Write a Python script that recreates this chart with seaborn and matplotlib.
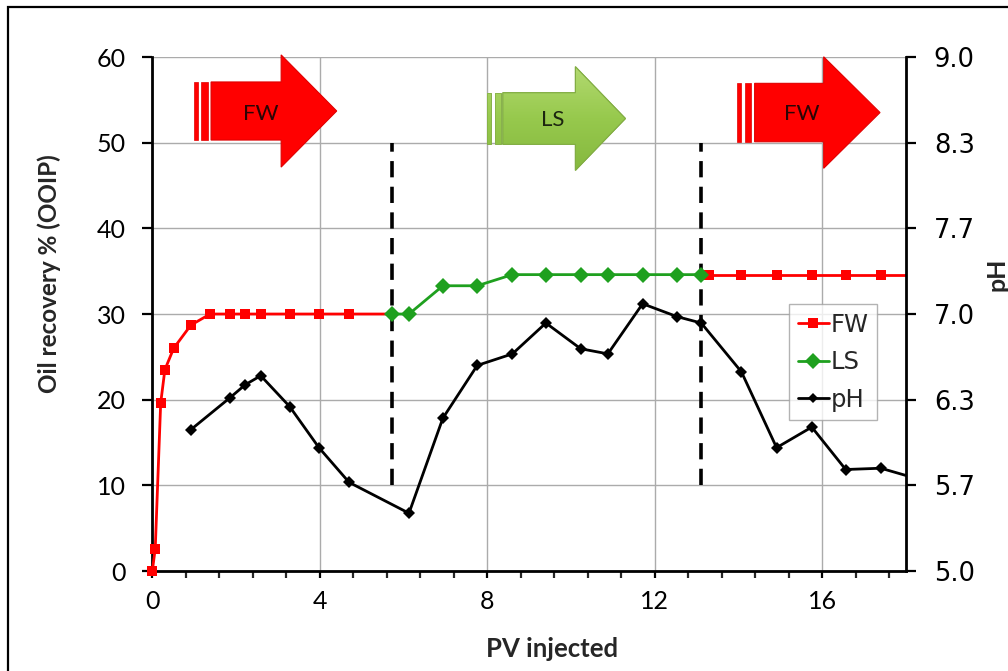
import numpy as np
import matplotlib
matplotlib.use("Agg")
import matplotlib.pyplot as plt
from matplotlib.patches import Polygon, Rectangle
from matplotlib.ticker import MultipleLocator, FormatStrFormatter
from matplotlib.lines import Line2D
import seaborn as sns

# ---- data -------------------------------------------------------------
# first formation-water flood: PV injected vs oil recovery (% OOIP)
fw1_pv = [0.0, 0.07, 0.20, 0.30, 0.51, 0.92, 1.38, 1.86, 2.22, 2.59, 3.28, 3.98, 4.70, 5.72]
fw1_rec = [0.0, 2.6, 19.6, 23.5, 26.0, 28.7, 30.0, 30.0, 30.0, 30.0, 30.0, 30.0, 30.0, 30.0]

# low-salinity flood
ls_pv = [5.72, 6.13, 6.94, 7.76, 8.60, 9.40, 10.23, 10.88, 11.71, 12.53, 13.11]
ls_rec = [30.0, 30.0, 33.3, 33.3, 34.6, 34.6, 34.6, 34.6, 34.6, 34.6, 34.6]

# second formation-water flood
fw2_pv = [13.11, 13.29, 14.07, 14.91, 15.75, 16.56, 17.40, 18.25]
fw2_rec = [34.6, 34.6, 34.6, 34.6, 34.6, 34.6, 34.6, 34.6]

# effluent pH
ph_pv = [0.92, 1.86, 2.22, 2.59, 3.28, 3.98, 4.70, 6.13, 6.94, 7.76, 8.60, 9.40,
         10.23, 10.88, 11.71, 12.53, 13.11, 14.07, 14.91, 15.75, 16.56, 17.40, 18.25]
ph_val = [6.10, 6.35, 6.45, 6.52, 6.28, 5.96, 5.69, 5.45, 6.19, 6.60, 6.69, 6.93,
          6.73, 6.69, 7.08, 6.98, 6.93, 6.55, 5.96, 6.12, 5.79, 5.80, 5.72]

# PV at which the injected brine was switched
switch_pv = [5.72, 13.11]

x_ticks = [0, 4, 8, 12, 16]
y_ticks = [0, 10, 20, 30, 40, 50, 60]
ph_ticks = np.linspace(5.0, 9.0, 7)

# ---- style ------------------------------------------------------------
sns.set_style("white")
plt.rcParams["font.family"] = ["Lato", "DejaVu Sans"]

RED = "#ff0000"
GREEN = "#1fa01f"

fig = plt.figure(figsize=(10.08, 6.71), dpi=100)
ax = fig.add_axes([0.1511, 0.149, 0.7477, 0.766])
ax2 = ax.twinx()

# ---- series -----------------------------------------------------------
sns.lineplot(x=fw1_pv, y=fw1_rec, ax=ax, color=RED, lw=2.0, marker="s", markersize=7.5,
             markeredgewidth=0, markevery=list(range(len(fw1_pv) - 1)), clip_on=False,
             zorder=5, sort=False)
sns.lineplot(x=fw2_pv, y=fw2_rec, ax=ax, color=RED, lw=2.0, marker="s", markersize=7.5,
             markeredgewidth=0, markevery=list(range(1, len(fw2_pv))), zorder=5, sort=False)
sns.lineplot(x=ls_pv, y=ls_rec, ax=ax, color=GREEN, lw=2.0, marker="D", markersize=8,
             markeredgewidth=0, zorder=6, sort=False)
sns.lineplot(x=ph_pv, y=ph_val, ax=ax2, color="black", lw=2.0, marker="D", markersize=6,
             markeredgewidth=0, zorder=5, sort=False)

# brine switch markers
for xs in switch_pv:
    ax.plot([xs, xs], [10, 50], color="black", lw=2.6, ls=(0, (4.5, 2.6)), zorder=4)


# ---- striped arrows marking the injected brine ------------------------
def striped_arrow(x_start, x_body, x_head, x_tip, yc, bh, hh, face, edge,
                  label, label_x, label_y, text_color, gradient=None):
    pieces = [
        [(x_start, yc - bh), (x_start + 0.096, yc - bh), (x_start + 0.096, yc + bh), (x_start, yc + bh)],
        [(x_start + 0.179, yc - bh), (x_start + 0.334, yc - bh), (x_start + 0.334, yc + bh), (x_start + 0.179, yc + bh)],
        [(x_body, yc - bh), (x_head, yc - bh), (x_head, yc - hh), (x_tip, yc),
         (x_head, yc + hh), (x_head, yc + bh), (x_body, yc + bh)],
    ]
    for i, pts in enumerate(pieces):
        edge_lw = 0.8 if i == 2 else 0.5
        poly = Polygon(pts, closed=True, facecolor=face, edgecolor=edge, lw=edge_lw,
                       zorder=3, clip_on=False)
        ax.add_patch(poly)
        if gradient is not None:
            grad = np.linspace(0, 1, 64).reshape(-1, 1)
            im = ax.imshow(grad, cmap=gradient, extent=(x_start, x_tip, yc - hh, yc + hh),
                           origin="lower", aspect="auto", zorder=3.1, interpolation="bilinear")
            im.set_clip_path(poly)
            outline = Polygon(pts, closed=True, facecolor="none", edgecolor=edge, lw=edge_lw,
                              zorder=3.2, clip_on=False)
            ax.add_patch(outline)
    ax.text(label_x, label_y, label, ha="center", va="center", fontsize=16,
            color=text_color, zorder=3.5, family="Lato")


green_grad = matplotlib.colors.LinearSegmentedColormap.from_list(
    "ls_green", ["#86b93f", "#97c94d", "#b2d970"])

striped_arrow(0.985, 1.403, 3.077, 4.404, 53.70, 3.39, 6.55, RED, "#e00000",
              "FW", 2.59, 53.4, "#2a0505")
striped_arrow(7.994, 8.372, 10.105, 11.300, 52.82, 3.01, 6.05, "#9acb50", "#82ad44",
              "LS", 9.57, 52.6, "#1c2610", gradient=green_grad)
striped_arrow(13.966, 14.385, 16.034, 17.380, 53.52, 3.41, 6.51, RED, "#e00000",
              "FW", 15.51, 53.4, "#2a0505")

# ---- axes -------------------------------------------------------------
ax.set_xlim(0, 18)
ax.set_ylim(0, 60)
ax2.set_ylim(5, 9)

ax.set_xticks(x_ticks)
ax.set_yticks(y_ticks)
ax.xaxis.set_minor_locator(MultipleLocator(0.8))
ax2.set_yticks(ph_ticks)
ax2.yaxis.set_major_formatter(FormatStrFormatter("%.1f"))

ax.grid(True, which="major", color="#ababab", lw=1.0)
ax.set_axisbelow(True)

for side in ["top", "right"]:
    ax.spines[side].set_visible(False)
for side in ["top", "left", "bottom"]:
    ax2.spines[side].set_visible(False)
for sp in [ax.spines["left"], ax.spines["bottom"], ax2.spines["right"]]:
    sp.set_linewidth(2.0)
    sp.set_color("black")

ax.tick_params(axis="y", which="major", direction="out", length=7, width=1.6,
               labelsize=18, pad=12, colors="black", left=True)
ax.tick_params(axis="x", which="major", direction="out", length=5, width=1.6,
               labelsize=18, pad=9, colors="black", bottom=True)
ax.tick_params(axis="x", which="minor", direction="out", length=5, width=1.6, bottom=True)
ax2.tick_params(axis="y", which="major", direction="out", length=7, width=1.6,
                labelsize=18.5, pad=13, colors="black", right=True)
for lbl in ax2.get_yticklabels():
    lbl.set_family("DejaVu Sans")

ax.set_xlabel("PV injected", fontsize=18.5, fontweight="bold")
ax.xaxis.set_label_coords(0.53, -0.128)
ax.set_ylabel("Oil recovery % (OOIP)", fontsize=17.5, fontweight="bold")
ax.yaxis.set_label_coords(-0.121, 0.578)
ax2.set_ylabel("pH", fontsize=18, fontweight="bold", rotation=90)
ax2.yaxis.set_label_coords(1.106, 0.578)

# ---- legend -----------------------------------------------------------
handles = [
    Line2D([], [], color=RED, lw=2, marker="s", markersize=7.5, markeredgewidth=0),
    Line2D([], [], color=GREEN, lw=2, marker="D", markersize=8, markeredgewidth=0),
    Line2D([], [], color="black", lw=2, marker="D", markersize=5, markeredgewidth=0),
]
leg = ax2.legend(handles, ["FW", "LS", "pH"], loc="upper left",
                 bbox_to_anchor=(0.845, 0.519), borderaxespad=0,
                 prop={"family": "DejaVu Sans", "size": 17.5},
                 frameon=True, fancybox=False, edgecolor="#a0a0a0",
                 handlelength=1.3, handletextpad=0.05, borderpad=0.35,
                 labelspacing=0.55)
leg.get_frame().set_linewidth(1.0)

# outer frame
fig.add_artist(Rectangle((8 / 1008, -0.05), 1.2, 1 - 7 / 671 + 0.05,
                         transform=fig.transFigure, fill=False, lw=1.6,
                         edgecolor="black"))

fig.savefig("out.png", dpi=100)
